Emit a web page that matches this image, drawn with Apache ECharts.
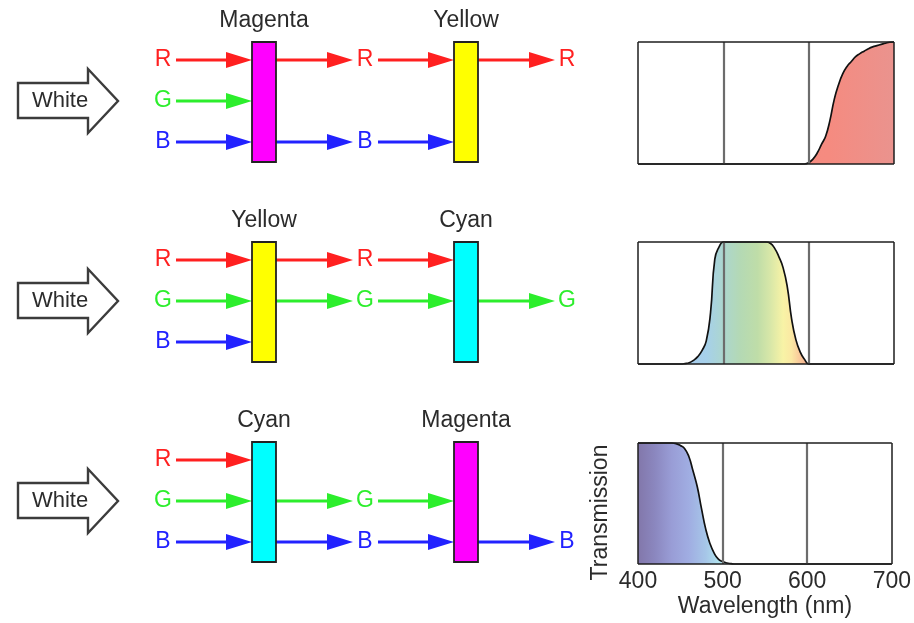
<!DOCTYPE html>
<html>
<head>
<meta charset="utf-8">
<script src="https://cdn.jsdelivr.net/npm/echarts@6.0.0/dist/echarts.min.js"></script>
<style>
  html, body { margin: 0; padding: 0; background: #fff; }
  #chart { width: 914px; height: 623px; }
</style>
</head>
<body>
<div id="chart"></div>
<script>
// Primaries and the filter pairs they pass through, row by row
const channels = ['R', 'G', 'B'];
const sourceLabel = 'White';
const filterPairs = [['Magenta', 'Yellow'], ['Yellow', 'Cyan'], ['Cyan', 'Magenta']];
const afterFirst = [['R', 'B'], ['R', 'G'], ['G', 'B']];
const afterSecond = [['R'], ['G'], ['B']];

// Transmission of each filter pair, sampled every 5 nm
const wavelengths = [
  400, 405, 410, 415, 420, 425, 430, 435, 440, 445,
  450, 455, 460, 465, 470, 475, 480, 485, 490, 495,
  500, 505, 510, 515, 520, 525, 530, 535, 540, 545,
  550, 555, 560, 565, 570, 575, 580, 585, 590, 595,
  600, 605, 610, 615, 620, 625, 630, 635, 640, 645,
  650, 655, 660, 665, 670, 675, 680, 685, 690, 695,
  700
];
const redPass = [
  0, 0, 0, 0, 0, 0, 0, 0, 0, 0,
  0, 0, 0, 0, 0, 0, 0, 0, 0, 0,
  0, 0, 0, 0, 0, 0, 0, 0, 0, 0,
  0, 0, 0, 0, 0, 0, 0, 0, 0, 0,
  0.01, 0.04, 0.09, 0.16, 0.23, 0.36, 0.53, 0.65, 0.74, 0.8,
  0.84, 0.88, 0.905, 0.925, 0.945, 0.96, 0.97, 0.98, 0.99, 0.998,
  1
];
const greenPass = [
  0, 0, 0, 0, 0, 0, 0, 0, 0, 0,
  0, 0.003, 0.01, 0.03, 0.06, 0.11, 0.19, 0.42, 0.86, 0.96,
  1, 1, 1, 1, 1, 1, 1, 1, 1, 1,
  1, 0.99, 0.95, 0.88, 0.79, 0.63, 0.37, 0.2, 0.1, 0.04,
  0, 0, 0, 0, 0, 0, 0, 0, 0, 0,
  0, 0, 0, 0, 0, 0, 0, 0, 0, 0,
  0
];
const bluePass = [
  1, 1, 1, 1, 1, 1, 1, 1, 1, 0.995,
  0.98, 0.955, 0.89, 0.77, 0.64, 0.46, 0.29, 0.17, 0.09, 0.04,
  0.02, 0.008, 0.003, 0, 0, 0, 0, 0, 0, 0,
  0, 0, 0, 0, 0, 0, 0, 0, 0, 0,
  0, 0, 0, 0, 0, 0, 0, 0, 0, 0,
  0, 0, 0, 0, 0, 0, 0, 0, 0, 0,
  0
];
const wavelengthTicks = [400, 500, 600, 700];
const guideWavelengths = [500, 600];

// ---- styling ----
const FONT = '"Liberation Sans", Arial, Helvetica, sans-serif';
const TEXT = '#2b2b2b';
const channelColors = ['#ff2020', '#2cee2c', '#2222ff'];
const filterColors = { Magenta: '#ff00ff', Yellow: '#ffff00', Cyan: '#00ffff' };
const channelGap = 41;
const filterHalfW = 12;
const filterTop = -59;
const filterH = 120;

const spectra = [redPass, greenPass, bluePass];
const spectrumTops = [42, 242, 443];
const spectrumFills = [
  [
    { offset: 0, color: '#f6887c' },
    { offset: 0.75, color: '#f58b80' },
    { offset: 1, color: '#ea938e' }
  ],
  [
    { offset: 0.167, color: '#a9cbee' },
    { offset: 0.267, color: '#a6d0ea' },
    { offset: 0.333, color: '#acd6cf' },
    { offset: 0.4, color: '#b4d9b4' },
    { offset: 0.467, color: '#bfdda8' },
    { offset: 0.517, color: '#d8e7a8' },
    { offset: 0.567, color: '#f8f3a6' },
    { offset: 0.6, color: '#fbe8a3' },
    { offset: 0.633, color: '#f9c79a' },
    { offset: 0.667, color: '#f5ad8e' }
  ],
  [
    { offset: 0, color: '#8277aa' },
    { offset: 0.067, color: '#8b87bf' },
    { offset: 0.133, color: '#999dd6' },
    { offset: 0.2, color: '#a0ade2' },
    { offset: 0.267, color: '#a6c6e8' },
    { offset: 0.317, color: '#b0e2ee' }
  ]
];

// ---- diagram items ----
const filterItems = [];
const flowItems = [];
const sourceItems = [];
filterPairs.forEach((pair, r) => {
  pair.forEach((name, k) => filterItems.push([k + 0.5, r, k]));
  channels.forEach((c, i) => flowItems.push([0, r, i]));
  afterFirst[r].forEach(c => flowItems.push([1, r, channels.indexOf(c)]));
  afterSecond[r].forEach(c => flowItems.push([2, r, channels.indexOf(c)]));
  sourceItems.push([-0.5, r]);
});

function arrow(x1, x2, y, color) {
  const head = 26, half = 8;
  return [
    { type: 'line', shape: { x1: x1, y1: y, x2: x2 - head + 2, y2: y },
      style: { stroke: color, lineWidth: 3 } },
    { type: 'polygon', shape: { points: [[x2 - head, y - half], [x2, y], [x2 - head, y + half]] },
      style: { fill: color } }
  ];
}

const chart = echarts.init(document.getElementById('chart'), null, { renderer: 'canvas' });

const grids = spectrumTops.map((top, i) => ({
  left: 638, top: top, width: 256, height: i === 2 ? 121 : 122
}));
grids.push({ left: 163, top: 101, width: 404, height: 400 });

const xAxes = spectra.map((_, i) => ({
  type: 'value', gridIndex: i, min: wavelengthTicks[0], max: wavelengthTicks[wavelengthTicks.length - 1],
  interval: wavelengthTicks[1] - wavelengthTicks[0],
  axisLine: { show: false }, axisTick: { show: false }, splitLine: { show: false },
  axisLabel: { show: i === 2, fontSize: 23, color: TEXT, fontFamily: FONT, margin: 6 },
  name: i === 2 ? 'Wavelength (nm)' : '',
  nameLocation: 'middle', nameGap: 31,
  nameTextStyle: { fontSize: 23, color: TEXT, fontFamily: FONT }
}));
xAxes.push({ type: 'value', gridIndex: 3, min: 0, max: 2, show: false });

const yAxes = spectra.map((_, i) => ({
  type: 'value', gridIndex: i, min: 0, max: 1,
  axisLine: { show: false }, axisTick: { show: false }, splitLine: { show: false },
  axisLabel: { show: false },
  name: i === 2 ? 'Transmission' : '',
  nameLocation: 'middle', nameGap: 26,
  nameTextStyle: { fontSize: 23, color: TEXT, fontFamily: FONT, padding: [0, 18, 0, 0] }
}));
yAxes.push({ type: 'value', gridIndex: 3, min: 0, max: 2, inverse: true, show: false });

const frameLine = { color: '#1e1e1e', width: 1.5, type: 'solid' };
const spectrumSeries = spectra.map((vals, i) => ({
  type: 'line',
  xAxisIndex: i, yAxisIndex: i,
  data: wavelengths.map((w, j) => [w, vals[j]]),
  smooth: 0.5,
  showSymbol: false,
  clip: false,
  silent: true,
  lineStyle: { color: '#111', width: 1.7 },
  areaStyle: { opacity: 1, color: new echarts.graphic.LinearGradient(0, 0, 1, 0, spectrumFills[i]) },
  markLine: {
    silent: true, symbol: 'none', animation: false,
    label: { show: false },
    lineStyle: { type: 'solid' },
    data: guideWavelengths.map(w => ({ xAxis: w, lineStyle: { color: '#6c6c6c', width: 2.2, type: 'solid' } }))
      .concat([
        { xAxis: wavelengthTicks[0], lineStyle: frameLine },
        { xAxis: wavelengthTicks[wavelengthTicks.length - 1], lineStyle: frameLine },
        { yAxis: 0, lineStyle: frameLine },
        { yAxis: 1, lineStyle: frameLine }
      ])
  }
}));

const sourceSeries = {
  type: 'custom', xAxisIndex: 3, yAxisIndex: 3, silent: true, clip: false,
  data: sourceItems,
  renderItem: function (params, api) {
    const p = api.coord([api.value(0), api.value(1)]);
    const x = p[0], y = p[1];
    const pts = [[-44, -18], [26, -18], [26, -32], [56, 0], [26, 32], [26, 17], [-44, 17]]
      .map(q => [x + q[0], y + q[1]]);
    return {
      type: 'group',
      children: [
        { type: 'polygon', shape: { points: pts },
          style: { fill: '#fff', stroke: '#3c3c3c', lineWidth: 2.4, lineJoin: 'miter' } },
        { type: 'text', style: { x: x - 2, y: y, text: sourceLabel, fill: TEXT,
          font: '22px ' + FONT, align: 'center', verticalAlign: 'middle' } }
      ]
    };
  }
};

const filterSeries = {
  type: 'custom', xAxisIndex: 3, yAxisIndex: 3, silent: true, clip: false, z: 3,
  data: filterItems,
  renderItem: function (params, api) {
    const row = api.value(1), k = api.value(2);
    const p = api.coord([api.value(0), row]);
    const name = filterPairs[row][k];
    return {
      type: 'group',
      children: [
        { type: 'rect', shape: { x: p[0] - filterHalfW, y: p[1] + filterTop, width: filterHalfW * 2, height: filterH },
          style: { fill: filterColors[name], stroke: '#222', lineWidth: 1.8 } },
        { type: 'text', style: { x: p[0], y: p[1] + filterTop - 21, text: name, fill: TEXT,
          font: '23px ' + FONT, align: 'center', verticalAlign: 'middle' } }
      ]
    };
  }
};

const flowSeries = {
  type: 'custom', xAxisIndex: 3, yAxisIndex: 3, silent: true, clip: false, z: 2,
  data: flowItems,
  renderItem: function (params, api) {
    const stage = api.value(0), row = api.value(1), ch = api.value(2);
    const p = api.coord([stage, row]);
    const y = p[1] + (ch - 1) * channelGap;
    const color = channelColors[ch];
    let children = [];
    if (stage > 0) {
      children = children.concat(arrow(api.coord([stage - 0.5, row])[0] + filterHalfW, p[0] - 12, y, color));
    }
    if (stage < 2) {
      children = children.concat(arrow(p[0] + 13, api.coord([stage + 0.5, row])[0] - filterHalfW, y, color));
    }
    children.push({ type: 'text', style: { x: p[0], y: y, text: channels[ch], fill: color,
      font: '23px ' + FONT, align: 'center', verticalAlign: 'middle' } });
    return { type: 'group', children: children };
  }
};

chart.setOption({
  animation: false,
  backgroundColor: '#fff',
  grid: grids,
  xAxis: xAxes,
  yAxis: yAxes,
  series: spectrumSeries.concat([sourceSeries, flowSeries, filterSeries])
});
</script>
</body>
</html>
